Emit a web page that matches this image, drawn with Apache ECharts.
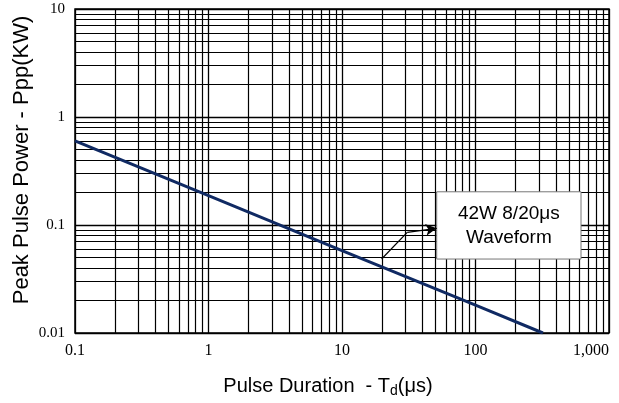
<!DOCTYPE html>
<html>
<head>
<meta charset="utf-8">
<script src="https://cdn.jsdelivr.net/npm/echarts@6/dist/echarts.min.js"></script>
<style>html,body{margin:0;padding:0;background:#fff}#c{width:619px;height:403px}</style>
</head>
<body>
<div id="c"></div>
<script>
// ---- data ----
var curveX = [0.1, 1, 10, 100, 320];
var curveY = [0.6, 0.187, 0.058, 0.0181, 0.01];
var xTicks = [0.1, 1, 10, 100, 1000];
var xTickLabels = ['0.1', '1', '10', '100', '1,000'];
var yTicks = [0.01, 0.1, 1, 10];
var yTickLabels = ['0.01', '0.1', '1', '10'];
var mantissas = [2, 3, 4, 5, 6, 7, 8, 9];
var xDecades = [0.1, 1, 10, 100];
var yDecades = [0.01, 0.1, 1];
// annotation (data coordinates)
var arrowStart = [19.8, 0.0484];
var arrowBend = [30.8, 0.0855];
var arrowEnd = [51.2, 0.0931];
var boxFrom = [51.2, 0.0484];
var boxTo = [617, 0.203];
var boxText = '42W 8/20μs\nWaveform';

var curve = curveX.map(function (x, i) { return [x, curveY[i]]; });
var gridLines = [];
xDecades.forEach(function (d) { mantissas.forEach(function (m) { gridLines.push({ xAxis: +(d * m).toPrecision(3) }); }); });
yDecades.forEach(function (d) { mantissas.forEach(function (m) { gridLines.push({ yAxis: +(d * m).toPrecision(3) }); }); });

function fmt(ticks, labels) {
  return function (v) {
    for (var i = 0; i < ticks.length; i++) {
      if (Math.abs(Math.log10(v) - Math.log10(ticks[i])) < 1e-6) return labels[i];
    }
    return '';
  };
}

var chart = echarts.init(document.getElementById('c'));
chart.setOption({
  animation: false,
  backgroundColor: '#fff',
  grid: { left: 75, right: 10, top: 9, bottom: 70, show: true, borderColor: '#000', borderWidth: 1.5,
          backgroundColor: 'transparent', containLabel: false, outerBoundsMode: 'none' },
  xAxis: {
    type: 'log', logBase: 10, min: 0.1, max: 1000,
    name: 'Pulse Duration  - {a|T}{s|d}{a|(μs)}',
    nameLocation: 'middle', nameGap: 42, nameMoveOverlap: false,
    nameTextStyle: {
      fontFamily: 'Liberation Sans', fontSize: 20, color: '#000', padding: [0, 28, 0, 0],
      rich: { a: { fontFamily: 'Liberation Sans', fontSize: 20, color: '#000' },
              s: { fontFamily: 'Liberation Sans', fontSize: 14, color: '#000', verticalAlign: 'bottom', padding: [9, 0, 0, 0] } }
    },
    axisLine: { show: false }, axisTick: { show: false },
    axisLabel: { margin: 10, fontFamily: 'Liberation Serif', fontSize: 16, color: '#000', alignMaxLabel: 'right', formatter: fmt(xTicks, xTickLabels) },
    splitLine: { show: true, lineStyle: { color: '#000', width: 1.3 } }
  },
  yAxis: {
    type: 'log', logBase: 10, min: 0.01, max: 10,
    name: 'Peak Pulse Power - Ppp(KW)',
    nameLocation: 'middle', nameGap: 42, nameMoveOverlap: false,
    nameTextStyle: { fontFamily: 'Liberation Sans', fontSize: 22, color: '#000', padding: [0, 0, 0, 22] },
    axisLine: { show: false }, axisTick: { show: false },
    axisLabel: { margin: 10, fontFamily: 'Liberation Serif', fontSize: 15, color: '#000', formatter: fmt(yTicks, yTickLabels) },
    splitLine: { show: true, lineStyle: { color: '#000', width: 1.3 } }
  },
  series: [
    {
      type: 'line', z: 1, data: [], silent: true,
      markLine: { z: 1, silent: true, symbol: ['none', 'none'], label: { show: false },
        lineStyle: { color: '#000', width: 1.2, type: 'solid' }, emphasis: { disabled: true }, data: gridLines }
    },
    {
      type: 'line', z: 3, data: curve, showSymbol: false, symbol: 'none',
      lineStyle: { color: '#102a63', width: 3 }
    },
    {
      type: 'line', z: 5, data: [], silent: true,
      markArea: { z: 6, silent: true,
        itemStyle: { color: '#fff', opacity: 1, borderColor: '#777', borderWidth: 1 },
        label: { show: true, position: 'inside', fontFamily: 'Liberation Sans', fontSize: 19, lineHeight: 24, color: '#000', formatter: boxText },
        emphasis: { disabled: true },
        data: [[{ coord: boxFrom }, { coord: boxTo }]] },
      markLine: { z: 7, silent: true, label: { show: false }, emphasis: { disabled: true },
        lineStyle: { color: '#000', width: 1.2, type: 'solid' }, symbolSize: [9, 11],
        data: [
          [{ coord: arrowStart, symbol: 'none' }, { coord: arrowBend, symbol: 'none' }],
          [{ coord: arrowBend, symbol: 'none' }, { coord: arrowEnd, symbol: 'arrow' }]
        ] }
    }
  ]
});
</script>
</body>
</html>
